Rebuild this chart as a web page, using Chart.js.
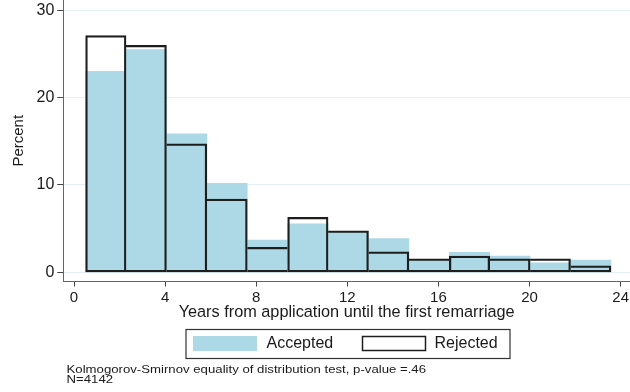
<!DOCTYPE html>
<html><head><meta charset="utf-8">
<script src="https://cdn.jsdelivr.net/npm/chart.js@4.4.0/dist/chart.umd.min.js"></script>
<style>html,body{margin:0;padding:0;background:#fff;} canvas{display:block;}</style>
</head><body>
<canvas id="c" width="630" height="392"></canvas>
<script>
// ---- data ----
const binCenters = [1.397, 3.171, 4.945, 6.719, 8.493, 10.267, 12.041, 13.815, 15.589, 17.363, 19.137, 20.911, 22.685];
const accepted   = [23.0, 25.5, 15.85, 10.2, 3.7, 5.55, 4.7, 3.85, 1.5, 2.3, 1.85, 1.1, 1.4];
const rejected   = [27.1, 26.0, 14.7, 8.4, 2.85, 6.3, 4.75, 2.35, 1.55, 1.85, 1.55, 1.55, 0.75];
const xTicks = [0, 4, 8, 12, 16, 20, 24];
const yTicks = [0, 10, 20, 30];
const seriesNames = ['Accepted', 'Rejected'];
const xTitle = 'Years from application until the first remarriage';
const yTitle = 'Percent';
const notes = ['Kolmogorov-Smirnov equality of distribution test, p-value =.46', 'N=4142'];

const FONT = "'Liberation Sans', Arial, Helvetica, sans-serif";
const TXT = '#1a1a1a';
const BLUE = '#add8e6';
const EDGE = '#1e1e1e';

Chart.defaults.font.family = FONT;
Chart.defaults.color = TXT;

const rejBorder = (ctx) => {
  const i = ctx.dataIndex, d = rejected, w = 1.6;
  return {
    top: w, bottom: w,
    left: (i === 0 || d[i - 1] < d[i]) ? w : 0,
    right: (i === d.length - 1 || d[i + 1] <= d[i]) ? w : 0
  };
};

const legendAndNotes = {
  id: 'legendAndNotes',
  afterDraw(chart) {
    const ctx = chart.ctx;
    const ds = chart.data.datasets;
    ctx.save();
    ctx.strokeStyle = '#333';
    ctx.lineWidth = 1.2;
    ctx.strokeRect(186, 329.5, 324, 29);
    ctx.font = '16px ' + FONT;
    ctx.textBaseline = 'middle';
    ctx.textAlign = 'left';
    ctx.fillStyle = ds[0].backgroundColor;
    ctx.fillRect(193, 336, 64, 15);
    ctx.fillStyle = TXT;
    ctx.fillText(ds[0].label, 266.5, 344);
    ctx.strokeStyle = EDGE;
    ctx.lineWidth = 1.5;
    ctx.strokeRect(362.5, 336.5, 63, 14);
    ctx.fillText(ds[1].label, 434.5, 344);
    ctx.textBaseline = 'alphabetic';
    const base = [373.3, 382.7];
    notes.forEach((t, k) => {
      ctx.save();
      ctx.translate(66.5, base[k]);
      ctx.scale(1, 0.8);
      ctx.font = '13.2px ' + FONT;
      ctx.fillText(t, 0, 0);
      ctx.restore();
    });
    ctx.restore();
  }
};

const noPad = (s) => { s.paddingTop = 0; s.paddingBottom = 0; s.paddingLeft = 0; s.paddingRight = 0; };

new Chart(document.getElementById('c'), {
  type: 'bar',
  data: {
    datasets: [
      {
        label: seriesNames[0],
        data: binCenters.map((x, i) => ({ x, y: accepted[i] })),
        backgroundColor: BLUE,
        borderWidth: 0,
        grouped: false,
        order: 2,
        barPercentage: 1,
        categoryPercentage: 1
      },
      {
        label: seriesNames[1],
        data: binCenters.map((x, i) => ({ x, y: rejected[i] })),
        backgroundColor: 'rgba(0,0,0,0)',
        borderColor: EDGE,
        borderWidth: rejBorder,
        borderSkipped: false,
        grouped: false,
        order: 1,
        barPercentage: 1,
        categoryPercentage: 1
      }
    ]
  },
  options: {
    responsive: false,
    animation: false,
    devicePixelRatio: 1,
    layout: { autoPadding: false, padding: { top: 0, left: 0, right: 0, bottom: 69.9 } },
    plugins: { legend: { display: false }, tooltip: { enabled: false } },
    scales: {
      x: {
        type: 'linear',
        offset: false,
        min: -0.47,
        max: 24.41,
        afterBuildTicks: (s) => { s.ticks = xTicks.map(v => ({ value: v })); },
        afterFit: (s) => { s.height = 40.6; noPad(s); },
        grid: { drawOnChartArea: false, drawTicks: true, tickLength: 5, tickColor: '#444', offset: false },
        border: { display: true, color: '#666', width: 1 },
        ticks: { font: { size: 15 }, padding: 2, color: TXT, maxRotation: 0, autoSkip: false },
        title: { display: true, text: xTitle, font: { size: 16.3 }, color: TXT, padding: { top: 0, bottom: 0 } }
      },
      y: {
        min: -1.05,
        max: 31.18,
        afterBuildTicks: (s) => { s.ticks = yTicks.map(v => ({ value: v })); },
        afterFit: (s) => { s.width = 63.3; noPad(s); },
        grid: { color: '#e6eff1', lineWidth: 1, drawTicks: true, tickLength: 6, tickColor: '#444' },
        border: { display: true, color: '#666', width: 1 },
        ticks: { font: { size: 16 }, padding: 3, color: TXT },
        title: { display: true, text: yTitle, font: { size: 15 }, color: TXT, padding: { top: 10.2, bottom: 0 } }
      }
    }
  },
  plugins: [legendAndNotes]
});
</script>
</body></html>
